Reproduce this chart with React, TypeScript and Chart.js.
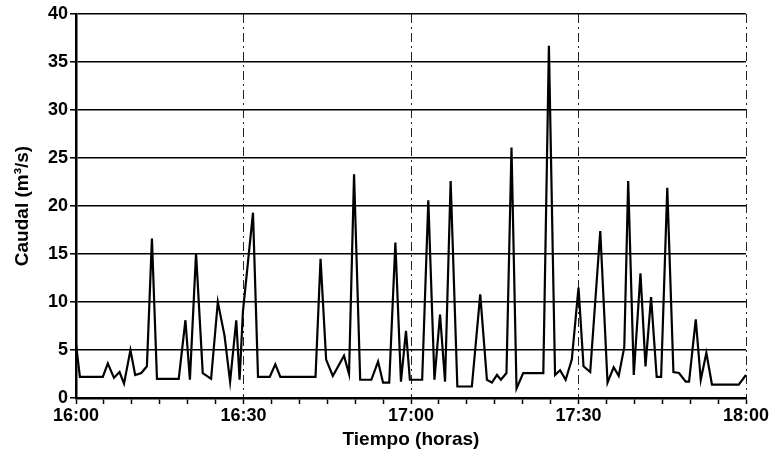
import React, { useEffect, useRef } from "react";
import { Chart, registerables } from "chart.js";

Chart.register(...registerables);

// minutes after 16:00
const minutes = [
  0, 0.7, 4.8, 5.7, 6.8, 7.8, 8.6, 9.75, 10.6, 11.7, 12.7, 13.6, 14.5, 18.4, 19.6, 20.4, 21.5, 22.7,
  24.2, 25.4, 26.6, 27.6, 28.7, 29.3, 29.9, 31.7, 32.6, 34.7, 35.7, 36.6, 42.9, 43.8, 44.8, 46.0,
  48.0, 48.9, 49.8, 50.9, 52.9, 54.1, 55.0, 56.1, 57.2, 58.2, 59.1, 59.8, 62.0, 63.1, 64.2, 65.2,
  66.1, 67.1, 68.3, 70.9, 72.4, 73.6, 74.5, 75.4, 76.1, 77.1, 78.0, 78.9, 80.1, 83.7, 84.7, 85.8,
  86.7, 87.7, 88.8, 90.0, 90.9, 92.1, 93.9, 95.2, 96.3, 97.2, 98.2, 98.9, 99.9, 101.1, 102.0, 103.0,
  104.0, 104.8, 105.9, 107.0, 108.0, 109.2, 109.8, 111.0, 111.9, 112.9, 113.9, 118.7, 120,
];

// caudal (m3/s)
const caudal = [
  5.6, 2.2, 2.2, 3.6, 2.1, 2.7, 1.5, 5.0, 2.4, 2.6, 3.3, 16.6, 2.0, 2.0, 8.1, 1.9, 15.1, 2.6,
  2.0, 10.0, 6.5, 1.7, 8.1, 1.9, 9.0, 19.3, 2.2, 2.2, 3.5, 2.2, 2.2, 14.5, 4.0, 2.3,
  4.4, 2.5, 23.3, 1.9, 1.9, 3.8, 1.6, 1.6, 16.2, 1.7, 7.0, 1.9, 1.9, 20.6, 1.9, 8.7,
  1.7, 22.6, 1.2, 1.2, 10.8, 1.9, 1.6, 2.4, 1.9, 2.6, 26.1, 1.0, 2.6, 2.6, 36.7, 2.4,
  2.9, 1.9, 4.0, 11.5, 3.3, 2.7, 17.4, 1.6, 3.2, 2.3, 5.3, 22.6, 2.4, 13.0, 3.3, 10.5,
  2.2, 2.2, 21.9, 2.7, 2.6, 1.7, 1.7, 8.2, 1.9, 4.7, 1.4, 1.4, 2.4,
];

const xMin = 0;
const xMax = 120;
const yMin = 0;
const yMax = 40;
const xStep = 5;
const xLabelEvery = 30;
const yStep = 5;
const startHour = 16;

const xTitle = "Tiempo (horas)";
const yTitle = "Caudal (m\u00B3/s)";

function fmtTime(v: number): string {
  const h = startHour + Math.floor(v / 60);
  const m = Math.round(v % 60);
  return `${h}:${m < 10 ? "0" + m : m}`;
}

export default function App() {
  const ref = useRef<HTMLCanvasElement | null>(null);

  useEffect(() => {
    if (!ref.current) return;
    const font = "'Liberation Sans', Arial, sans-serif";
    const chart = new Chart(ref.current, {
      type: "line",
      data: {
        datasets: [
          {
            data: minutes.map((t, i) => ({ x: t, y: caudal[i] })),
            borderColor: "#000",
            borderWidth: 2.2,
            pointRadius: 0,
            tension: 0,
            fill: false,
          },
        ],
      },
      options: {
        responsive: false,
        animation: false,
        layout: { padding: { left: 0, right: 26, top: 14, bottom: 0 } },
        plugins: { legend: { display: false }, tooltip: { enabled: false } },
        scales: {
          x: {
            type: "linear",
            min: xMin,
            max: xMax,
            afterFit: (s: any) => {
              s.height = 53;
            },
            ticks: {
              stepSize: xStep,
              autoSkip: false,
              maxRotation: 0,
              padding: 1,
              color: "#000",
              font: { family: font, size: 18, weight: "bold" },
              callback: (v: any) => (Number(v) % xLabelEvery === 0 ? fmtTime(Number(v)) : ""),
            },
            grid: {
              color: (c: any) =>
                c.tick && c.tick.value % xLabelEvery === 0 ? "#222" : "rgba(0,0,0,0)",
              lineWidth: 1,
              tickColor: "#000",
              tickLength: 6,
              tickWidth: 1.5,
            },
            border: {
              display: true,
              color: "#000",
              width: 2.5,
              dash: (c: any) => (c.tick ? [9, 4, 2, 4] : []),
            },
            title: {
              display: true,
              text: xTitle,
              color: "#000",
              font: { family: font, size: 19, weight: "bold" },
              padding: { top: 0, bottom: 0 },
            },
          },
          y: {
            type: "linear",
            min: yMin,
            max: yMax,
            afterFit: (s: any) => {
              s.width = 76;
            },
            ticks: {
              stepSize: yStep,
              padding: 2,
              color: "#000",
              font: { family: font, size: 18, weight: "bold" },
            },
            grid: {
              color: "#000",
              lineWidth: 1.6,
              tickColor: "#000",
              tickLength: 6,
              tickWidth: 1.5,
            },
            border: { display: true, color: "#000", width: 2.5 },
            title: {
              display: true,
              text: yTitle,
              color: "#000",
              font: { family: font, size: 19, weight: "bold" },
              padding: { top: 11, bottom: 4 },
            },
          },
        },
      },
    });
    return () => chart.destroy();
  }, []);

  return (
    <div style={{ position: "fixed", left: 0, top: 0, width: 772, height: 451, background: "#fff" }}>
      <canvas ref={ref} width={772} height={451} />
    </div>
  );
}
